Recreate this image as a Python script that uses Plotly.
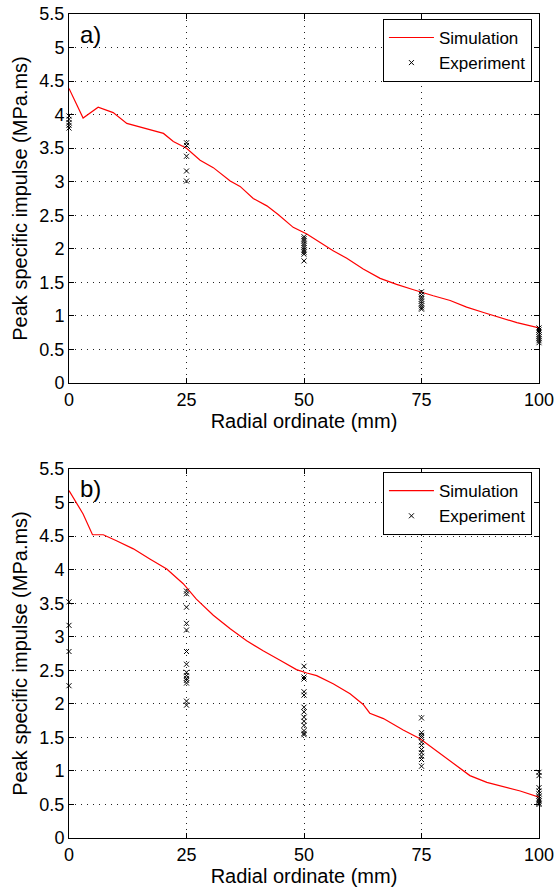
import plotly.graph_objects as go
from plotly.subplots import make_subplots

# simulation curves (radial ordinate mm, peak specific impulse MPa.ms)
sim_a_x = [0, 3, 6.2, 9.4, 12.3, 17.9, 20.1, 22.2, 25, 27.9, 30.7, 34.3, 36.4, 39.2, 42.1, 44.5,
           47.7, 50.6, 53.4, 56.2, 59.1, 62.6, 66.2, 69.7, 73.3, 75, 77.5, 81.1, 84.6, 88.2, 91.7, 95.3, 100]
sim_a_y = [4.39, 3.95, 4.11, 4.03, 3.87, 3.77, 3.72, 3.60, 3.50, 3.32, 3.21, 3.01, 2.93, 2.75, 2.64, 2.51,
           2.32, 2.22, 2.10, 1.97, 1.86, 1.70, 1.56, 1.47, 1.39, 1.35, 1.30, 1.23, 1.13, 1.05, 0.98, 0.90, 0.82]

sim_b_x = [0, 3, 5, 7.3, 10.1, 13.7, 17.2, 20.8, 24.3, 27.1, 30.7, 34.3, 37.8, 41.3, 44.9, 48.4,
           50.6, 52.7, 56.2, 59.8, 62.6, 64, 66.9, 71.1, 74.7, 78.2, 81.8, 85.3, 88.9, 92.4, 96, 100]
sim_b_y = [5.18, 4.83, 4.52, 4.52, 4.43, 4.31, 4.16, 4.01, 3.79, 3.56, 3.32, 3.12, 2.94, 2.79, 2.65, 2.51,
           2.46, 2.42, 2.30, 2.15, 1.99, 1.86, 1.78, 1.61, 1.48, 1.30, 1.11, 0.93, 0.83, 0.77, 0.70, 0.61]

# experiments, grouped by gauge position
exp_a = {
    0: [3.98, 3.93, 3.88, 3.84, 3.80],
    25: [3.58, 3.54, 3.38, 3.16, 3.01],
    50: [2.18, 2.15, 2.12, 2.08, 2.05, 2.02, 1.98, 1.95, 1.92, 1.82],
    75: [1.36, 1.32, 1.28, 1.25, 1.22, 1.18, 1.15, 1.12, 1.10],
    100: [0.82, 0.79, 0.76, 0.72, 0.69, 0.66, 0.63, 0.60],
}
exp_b = {
    0: [3.52, 3.17, 2.78, 2.27],
    25: [3.68, 3.64, 3.44, 3.20, 3.10, 2.78, 2.59, 2.47, 2.42, 2.38, 2.35, 2.31, 2.04, 1.98],
    50: [2.56, 2.40, 2.37, 2.18, 2.13, 1.95, 1.88, 1.80, 1.74, 1.68, 1.60, 1.56, 1.54],
    75: [1.79, 1.57, 1.53, 1.50, 1.43, 1.38, 1.32, 1.27, 1.22, 1.17, 1.07],
    100: [0.98, 0.93, 0.75, 0.70, 0.66, 0.62, 0.58, 0.55, 0.52, 0.50],
}

x_ticks = [0, 25, 50, 75, 100]
y_ticks = [0, 0.5, 1, 1.5, 2, 2.5, 3, 3.5, 4, 4.5, 5, 5.5]

FONT = "Liberation Sans, Arial, Helvetica, sans-serif"


def flatten(d):
    xs, ys = [], []
    for k, vals in d.items():
        xs += [k] * len(vals)
        ys += vals
    return xs, ys


fig = make_subplots(rows=2, cols=1)

for row, (sx, sy, ex, leg) in enumerate(
        [(sim_a_x, sim_a_y, exp_a, "legend"), (sim_b_x, sim_b_y, exp_b, "legend2")], start=1):
    fig.add_trace(go.Scatter(x=sx, y=sy, mode="lines", name="Simulation",
                             line=dict(color="#ff0000", width=1.2), legend=leg), row=row, col=1)
    xs, ys = flatten(ex)
    fig.add_trace(go.Scatter(x=xs, y=ys, mode="markers", name="Experiment", cliponaxis=False,
                             marker=dict(symbol="x-thin", size=5, line=dict(color="black", width=1)),
                             legend=leg), row=row, col=1)

axis_common = dict(showline=True, linecolor="black", linewidth=1, mirror="ticks",
                   ticks="inside", ticklen=5, tickcolor="black", automargin=False,
                   showgrid=True, gridcolor="#222222", gridwidth=1, griddash="1px,5px",
                   zeroline=False, tickfont=dict(size=18, color="black"))

for i, dom in [(1, [0.5522, 1.0]), (2, [0.0, 0.4478])]:
    sfx = "" if i == 1 else str(i)
    fig.layout["xaxis" + sfx].update(
        range=[0, 100], tickvals=x_ticks, domain=[0, 1], **axis_common,
        title=dict(text="Radial ordinate (mm)", font=dict(size=20, color="black"), standoff=2))
    fig.layout["yaxis" + sfx].update(
        range=[0, 5.5], tickvals=y_ticks, domain=dom, **axis_common,
        title=dict(text="Peak specific impulse (MPa.ms)", font=dict(size=20, color="black"), standoff=6))

legend_style = dict(x=0.985, xanchor="right", yanchor="top", bgcolor="white",
                    bordercolor="black", borderwidth=1, font=dict(size=17, color="black"),
                    tracegroupgap=0, itemwidth=45)

fig.update_layout(
    width=555, height=889,
    margin=dict(l=69, r=16, t=14, b=51, autoexpand=False),
    paper_bgcolor="white", plot_bgcolor="white",
    font=dict(family=FONT, color="black"),
    legend=dict(y=0.994, **legend_style),
    legend2=dict(y=0.444, **legend_style),
    annotations=[
        dict(text="a)", x=0.02, y=0.975, xref="paper", yref="paper", xanchor="left",
             yanchor="middle", showarrow=False, font=dict(size=24, color="black")),
        dict(text="b)", x=0.02, y=0.424, xref="paper", yref="paper", xanchor="left",
             yanchor="middle", showarrow=False, font=dict(size=24, color="black")),
    ],
)

fig.write_html("out.html", config={"displayModeBar": False},
               post_script="document.body.style.margin='0';document.body.style.overflow='hidden';")
